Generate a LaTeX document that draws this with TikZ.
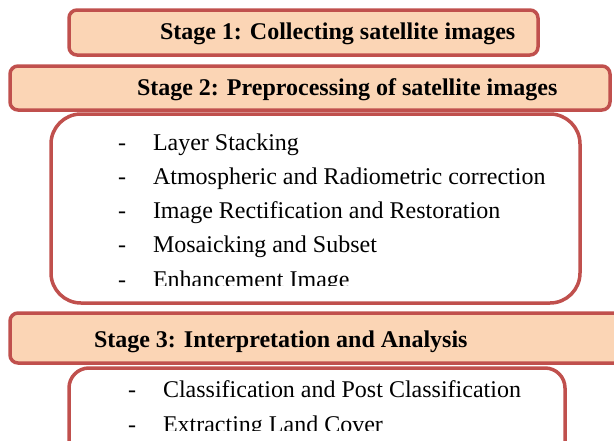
\documentclass[tikz,border=0pt]{standalone}
\usepackage{fontspec}
\setmainfont{Liberation Serif}
\definecolor{edgered}{HTML}{C0504D}
\definecolor{peach}{HTML}{FBD5B5}
\begin{document}
\begin{tikzpicture}[x=1pt,y=-1pt,
  every node/.style={inner sep=0pt, outer sep=0pt},
  stagebox/.style={draw=edgered, fill=peach, line width=3.5pt, rounded corners=8pt, anchor=north west},
  listbox/.style={draw=edgered, fill=white, line width=3.5pt, rounded corners=30pt, anchor=north west},
  head/.style={anchor=base west, font=\fontsize{24}{28}\selectfont\bfseries},
  item/.style={anchor=base west, font=\fontsize{24}{28}\selectfont}]
\useasboundingbox (0,0) rectangle (614,440);
\clip (0,0) rectangle (614,440);
% Stage 1
\node[stagebox, minimum width=469pt, minimum height=45pt] (s1) at (69,10) {};
\node[head] (t1) at (160,39) {Stage 1: Collecting satellite images};
% Stage 2
\node[stagebox, minimum width=600pt, minimum height=44pt] (s2) at (10,66) {};
\node[head] (t2) at (137,95) {Stage 2: Preprocessing of satellite images};
% Body 1
\node[listbox, minimum width=529pt, minimum height=189pt] (b1) at (51,114) {};
\begin{scope}
\clip (0,114) rectangle (614,285);
\node[item] (d11) at (118,150) {-};
\node[item] (i11) at (153,150) {Layer Stacking};
\node[item] (d12) at (118,184) {-};
\node[item] (i12) at (153,184) {Atmospheric and Radiometric correction};
\node[item] (d13) at (118,218) {-};
\node[item] (i13) at (153,218) {Image Rectification and Restoration};
\node[item] (d14) at (118,252) {-};
\node[item] (i14) at (153,252) {Mosaicking and Subset};
\node[item] (d15) at (118,287) {-};
\node[item] (i15) at (153,287) {Enhancement Image};
\end{scope}
% Stage 3
\node[stagebox, minimum width=620pt, minimum height=50pt] (s3) at (10,313) {};
\node[head] (t3) at (94,347) {Stage 3: Interpretation and Analysis};
% Body 2
\node[listbox, minimum width=496pt, minimum height=110pt, rounded corners=20pt] (b2) at (69,368) {};
\begin{scope}
\clip (0,368) rectangle (614,430);
\node[item] (d21) at (128,397) {-};
\node[item] (i21) at (163,397) {Classification and Post Classification};
\node[item] (d22) at (128,432) {-};
\node[item] (i22) at (163,432) {Extracting Land Cover};
\end{scope}
\end{tikzpicture}
\end{document}
